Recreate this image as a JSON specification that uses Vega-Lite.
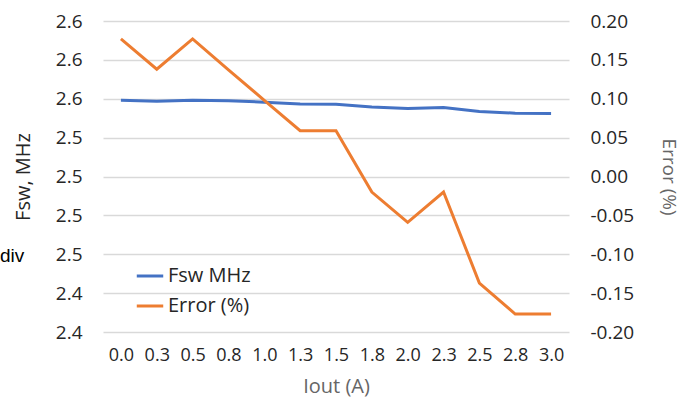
{
  "$schema": "https://vega.github.io/schema/vega-lite/v6.json",
  "width": 691,
  "height": 404,
  "autosize": {"type": "fit", "contains": "padding"},
  "padding": {"left": 0, "right": 13, "top": 12, "bottom": 8},
  "config": {
    "font": "Open Sans",
    "view": {"stroke": null},
    "axis": {"labelFont": "Open Sans", "titleFont": "Open Sans", "titleFontWeight": "normal"}
  },
  "title": {
    "text": "div",
    "orient": "none",
    "dx": -103,
    "dy": 235,
    "align": "left",
    "baseline": "middle",
    "font": "Liberation Sans",
    "fontSize": 19,
    "fontWeight": "normal",
    "color": "#000000"
  },
  "data": {
    "values": [
      {"iout": "0.0", "fsw": 2.5491, "err": 0.177},
      {"iout": "0.3", "fsw": 2.5484, "err": 0.138},
      {"iout": "0.5", "fsw": 2.5491, "err": 0.177},
      {"iout": "0.8", "fsw": 2.5487, "err": 0.137},
      {"iout": "1.0", "fsw": 2.5478, "err": 0.098},
      {"iout": "1.3", "fsw": 2.5467, "err": 0.059},
      {"iout": "1.5", "fsw": 2.5465, "err": 0.059},
      {"iout": "1.8", "fsw": 2.5447, "err": -0.020},
      {"iout": "2.0", "fsw": 2.5437, "err": -0.059},
      {"iout": "2.3", "fsw": 2.5444, "err": -0.020},
      {"iout": "2.5", "fsw": 2.5418, "err": -0.137},
      {"iout": "2.8", "fsw": 2.5407, "err": -0.177},
      {"iout": "3.0", "fsw": 2.5405, "err": -0.177}
    ]
  },
  "encoding": {
    "x": {
      "field": "iout",
      "type": "ordinal",
      "sort": null,
      "axis": {
        "title": "Iout (A)",
        "labelAngle": 0,
        "domain": false,
        "ticks": false,
        "grid": false,
        "labelFontSize": 18,
        "labelColor": "#262626",
        "labelPadding": 14,
        "titleFontSize": 20,
        "titleColor": "#666666",
        "titlePadding": 12
      }
    }
  },
  "layer": [
    {
      "mark": {"type": "line", "strokeWidth": 3},
      "encoding": {
        "y": {
          "field": "fsw",
          "type": "quantitative",
          "scale": {"domain": [2.4, 2.6], "nice": false, "zero": false},
          "axis": {
            "title": "Fsw, MHz",
            "values": [2.4, 2.425, 2.45, 2.475, 2.5, 2.525, 2.55, 2.575, 2.6],
            "labelExpr": "format(datum.value + 0.0001, '.1f')",
            "domain": false,
            "ticks": false,
            "grid": true,
            "gridColor": "#d9d9d9",
            "gridWidth": 1.3,
            "labelFontSize": 19,
            "labelColor": "#262626",
            "labelPadding": 21,
            "titleFontSize": 20,
            "titleColor": "#262626",
            "titlePadding": 22
          }
        },
        "color": {
          "datum": "Fsw MHz",
          "type": "nominal",
          "scale": {"domain": ["Fsw MHz", "Error (%)"], "range": ["#4472C4", "#ED7D31"]},
          "legend": {
            "title": null,
            "orient": "none",
            "legendX": 32,
            "legendY": 240,
            "padding": 0,
            "symbolType": "stroke",
            "symbolSize": 700,
            "symbolStrokeWidth": 3,
            "labelFontSize": 20,
            "labelColor": "#262626",
            "labelOffset": 3,
            "rowPadding": 5
          }
        }
      }
    },
    {
      "mark": {"type": "line", "strokeWidth": 3},
      "encoding": {
        "y": {
          "field": "err",
          "type": "quantitative",
          "scale": {"domain": [-0.2, 0.2], "nice": false, "zero": false},
          "axis": {
            "orient": "right",
            "title": "Error (%)",
            "values": [-0.2, -0.15, -0.1, -0.05, 0, 0.05, 0.1, 0.15, 0.2],
            "labelExpr": "replace(format(datum.value, '.2f'), '\u2212', '-')",
            "domain": false,
            "ticks": false,
            "grid": false,
            "labelFontSize": 19,
            "labelColor": "#262626",
            "labelPadding": 21,
            "titleFontSize": 19,
            "titleColor": "#666666",
            "titlePadding": 25
          }
        },
        "color": {"datum": "Error (%)", "type": "nominal"}
      }
    }
  ],
  "resolve": {"scale": {"y": "independent"}}
}
